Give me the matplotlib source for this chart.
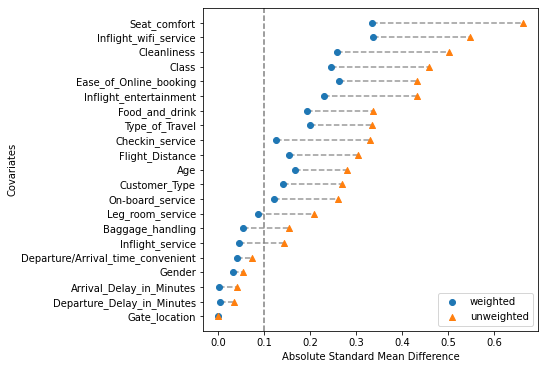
import matplotlib
matplotlib.use("Agg")
import matplotlib.pyplot as plt

covariates = ["Seat_comfort", "Inflight_wifi_service", "Cleanliness", "Class",
              "Ease_of_Online_booking", "Inflight_entertainment", "Food_and_drink",
              "Type_of_Travel", "Checkin_service", "Flight_Distance", "Age",
              "Customer_Type", "On-board_service", "Leg_room_service",
              "Baggage_handling", "Inflight_service",
              "Departure/Arrival_time_convenient", "Gender",
              "Arrival_Delay_in_Minutes", "Departure_Delay_in_Minutes", "Gate_location"]
weighted = [0.335, 0.337, 0.258, 0.246, 0.263, 0.230, 0.193, 0.200, 0.126, 0.154,
            0.167, 0.141, 0.122, 0.087, 0.054, 0.045, 0.041, 0.032, 0.002, 0.004, 0.0]
unweighted = [0.663, 0.548, 0.502, 0.458, 0.433, 0.433, 0.337, 0.335, 0.330, 0.304,
              0.280, 0.270, 0.261, 0.209, 0.154, 0.143, 0.074, 0.054, 0.040, 0.035, 0.0]

# plot bottom-up so first covariate ends on top
cov = covariates[::-1]
w = weighted[::-1]
u = unweighted[::-1]

fig = plt.figure(figsize=(544 / 72, 371 / 72), dpi=72)
ax = fig.add_axes([203 / 544, 1 - 331 / 371, 335 / 544, 323 / 371])

ax.hlines(cov, w, u, colors="grey", linestyles="dashed", alpha=0.8, linewidth=1.5)
ax.scatter(w, cov, marker="o", s=36, label="weighted", zorder=3)
ax.scatter(u, cov, marker="^", s=36, label="unweighted", zorder=3)
ax.axvline(0.1, color="grey", linestyle="--", linewidth=1.5)

ax.set_xlabel("Absolute Standard Mean Difference")
ax.set_ylabel("Covariates")
ax.legend(loc="lower right")

fig.savefig("out.png", dpi=72)
